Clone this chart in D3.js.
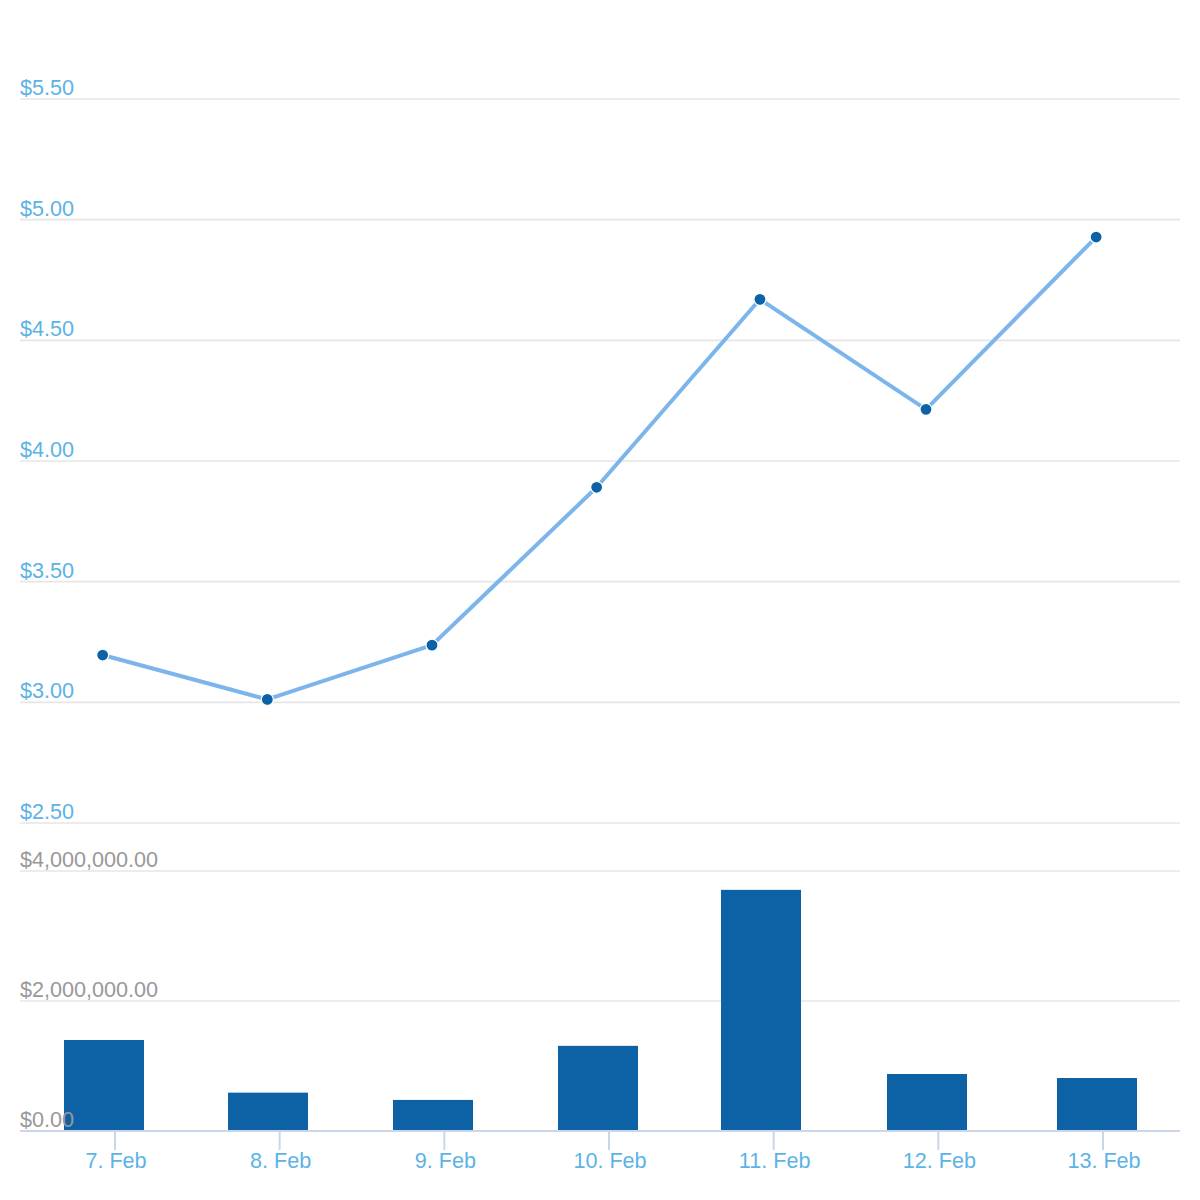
<!DOCTYPE html>
<html>
<head>
<meta charset="utf-8">
<script src="https://cdn.jsdelivr.net/npm/d3@7"></script>
<style>
  html, body { margin: 0; padding: 0; background: #fff; }
  svg { display: block; font-family: "Liberation Sans", Arial, sans-serif; }
</style>
</head>
<body>
<svg id="chart" width="1200" height="1200"></svg>
<script>
// ---- data ----
const timestamps = ["2024-02-06T22:12", "2024-02-07T22:12", "2024-02-08T22:12", "2024-02-09T22:12",
                    "2024-02-10T22:00", "2024-02-11T22:12", "2024-02-12T23:00"];
const prices  = [3.196, 3.012, 3.237, 3.891, 4.670, 4.214, 4.928];
const volumes = [1400000, 590000, 478000, 1310000, 3710000, 877000, 815000];
const dayTicks = ["2024-02-07", "2024-02-08", "2024-02-09", "2024-02-10", "2024-02-11", "2024-02-12", "2024-02-13"];
const priceTicks  = [2.5, 3.0, 3.5, 4.0, 4.5, 5.0, 5.5];
const volumeTicks = [0, 2000000, 4000000];

// ---- layout ----
const svg = d3.select("#chart");
const left = 20, right = 1180;
const parse = d3.timeParse("%Y-%m-%dT%H:%M");
const parseDay = d3.timeParse("%Y-%m-%d");
const dates = timestamps.map(parse);
const days = dayTicks.map(parseDay);

const x = d3.scaleTime().domain([days[0], days[6]]).range([115, 1103]);
const yP = d3.scaleLinear().domain([2.5, 5.5]).range([823, 99]);
const yV = d3.scaleLinear().domain([0, 4000000]).range([1131, 871]);

const fmtP = d => "$" + d3.format(".2f")(d);
const fmtV = d => "$" + d3.format(",.2f")(d);
const fmtX = d3.timeFormat("%-d. %b");

const fontSize = "21.6px";

// ---- grid lines ----
const grid = svg.append("g");
grid.selectAll("line.p").data(priceTicks).join("line")
  .attr("x1", left).attr("x2", right)
  .attr("y1", d => yP(d)).attr("y2", d => yP(d))
  .attr("stroke", "#e6e6e6").attr("stroke-width", 1.6);
grid.selectAll("line.v").data(volumeTicks.filter(d => d > 0)).join("line")
  .attr("x1", left).attr("x2", right)
  .attr("y1", d => yV(d)).attr("y2", d => yV(d))
  .attr("stroke", "#e6e6e6").attr("stroke-width", 1.6);

// ---- bars ----
const barW = 80;
svg.append("g").selectAll("rect").data(volumes).join("rect")
  .attr("x", (d, i) => Math.round(x(dates[i]) + 1 - barW / 2))
  .attr("width", barW)
  .attr("y", d => yV(d))
  .attr("height", d => yV(0) - yV(d))
  .attr("fill", "#0c62a5");

// ---- x axis ----
const xAxis = svg.append("g");
xAxis.append("line")
  .attr("x1", left).attr("x2", right)
  .attr("y1", yV(0)).attr("y2", yV(0))
  .attr("stroke", "#ccd6eb").attr("stroke-width", 2);
xAxis.selectAll("line.tick").data(days).join("line")
  .attr("class", "tick")
  .attr("x1", d => x(d)).attr("x2", d => x(d))
  .attr("y1", yV(0)).attr("y2", yV(0) + 19)
  .attr("stroke", "#ccd6eb").attr("stroke-width", 2);
xAxis.selectAll("text").data(days).join("text")
  .attr("x", d => x(d) + 1)
  .attr("y", 1168)
  .attr("text-anchor", "middle")
  .attr("font-size", fontSize)
  .attr("fill", "#5cb3e6")
  .text(d => fmtX(d));

// ---- price line ----
const line = d3.line().x((d, i) => x(dates[i])).y(d => yP(d));
svg.append("path").datum(prices)
  .attr("d", line)
  .attr("fill", "none")
  .attr("stroke", "#7cb5ec")
  .attr("stroke-width", 4)
  .attr("stroke-linejoin", "round")
  .attr("stroke-linecap", "round");
svg.append("g").selectAll("circle").data(prices).join("circle")
  .attr("cx", (d, i) => x(dates[i]))
  .attr("cy", d => yP(d))
  .attr("r", 6)
  .attr("fill", "#0c62a5")
  .attr("stroke", "#fff")
  .attr("stroke-width", 1.2);

// ---- y labels ----
svg.append("g").selectAll("text").data(priceTicks).join("text")
  .attr("x", left)
  .attr("y", d => yP(d) - 4)
  .attr("font-size", fontSize)
  .attr("fill", "#5cb3e6")
  .text(fmtP);
svg.append("g").selectAll("text").data(volumeTicks).join("text")
  .attr("x", left)
  .attr("y", d => yV(d) - 4)
  .attr("font-size", fontSize)
  .attr("fill", "#999999")
  .text(fmtV);
</script>
</body>
</html>
